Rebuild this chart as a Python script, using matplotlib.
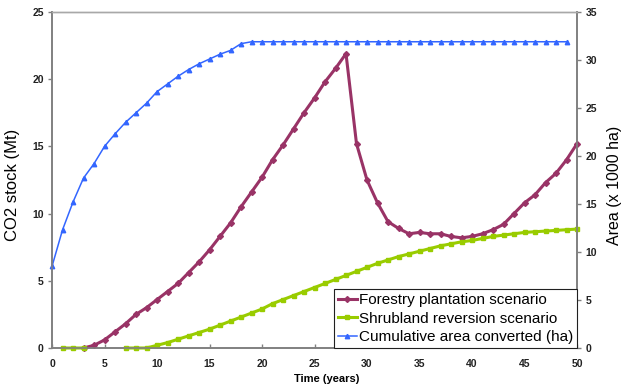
import numpy as np
import matplotlib
matplotlib.use("Agg")
import matplotlib.pyplot as plt

plt.rcParams['font.family'] = ['Liberation Sans', 'DejaVu Sans']

# data
years_forest = list(range(3, 51))
forest = [0.0, 0.2, 0.6, 1.2, 1.8, 2.5, 3.0, 3.6, 4.2, 4.8, 5.6, 6.4, 7.3, 8.3, 9.3, 10.5,
          11.6, 12.7, 14.0, 15.1, 16.3, 17.5, 18.6, 19.8, 20.8, 21.9,
          15.2, 12.5, 10.8, 9.4, 8.9, 8.5, 8.6, 8.5, 8.5, 8.3, 8.2, 8.3, 8.5, 8.8,
          9.2, 10.0, 10.8, 11.4, 12.3, 13.0, 14.0, 15.2]

years_shrub = list(range(1, 51))
shrub = [0.0, 0.0, 0.0, np.nan, np.nan, np.nan, 0.0, 0.0, 0.0, 0.2,
         0.4, 0.65, 0.9, 1.15, 1.4, 1.7, 2.0, 2.3, 2.6, 2.9,
         3.3, 3.6, 3.9, 4.2, 4.5, 4.8, 5.1, 5.4, 5.7, 6.0,
         6.3, 6.55, 6.8, 7.0, 7.2, 7.4, 7.6, 7.75, 7.9, 8.0,
         8.15, 8.3, 8.4, 8.5, 8.6, 8.65, 8.7, 8.75, 8.8, 8.85]

years_area = list(range(0, 50))
area = [8.5, 12.3, 15.2, 17.7, 19.2, 21.0, 22.3, 23.5, 24.5, 25.5,
        26.7, 27.5, 28.3, 29.0, 29.6, 30.1, 30.6, 31.0, 31.7] + [31.9] * 31

labels = ['Forestry plantation scenario', 'Shrubland reversion scenario',
          'Cumulative area converted (ha)']

fig = plt.figure(figsize=(6.24, 3.9), dpi=100)
ax = fig.add_axes([52 / 624, 1 - 348 / 390, 525 / 624, 336 / 390])
ax2 = ax.twinx()

l1, = ax.plot(years_forest, forest, color='#993366', lw=2.2, marker='D', ms=3,
              label=labels[0], clip_on=False, zorder=3)
l2, = ax.plot(years_shrub, shrub, color='#99CC00', lw=2.2, marker='s', ms=3.2,
              label=labels[1], clip_on=False, zorder=4)
l3, = ax2.plot(years_area, area, color='#3366FF', lw=1.1, marker='^', ms=3.2,
               label=labels[2], clip_on=False)

ax.set_xlim(0, 50)
ax.set_ylim(0, 25)
ax2.set_ylim(0, 35)
ax.set_xticks(range(0, 51, 5))
ax.set_yticks(range(0, 26, 5))
ax2.set_yticks(range(0, 36, 5))

grey = '#808080'
for a in (ax, ax2):
    for s in a.spines.values():
        s.set_color(grey)
        s.set_linewidth(1.2)
    a.spines['top'].set_color('#a8a8a8')
    a.spines['top'].set_linewidth(1.0)

ax.tick_params(axis='y', direction='out', length=3, width=1, color=grey, pad=3, labelsize=7.5)
ax.tick_params(axis='x', direction='in', length=3, width=1, color=grey, pad=8, labelsize=7.5)
ax2.tick_params(axis='y', direction='out', length=3, width=1, color=grey, pad=3, labelsize=7.5)
for lab in ax.get_xticklabels() + ax.get_yticklabels() + ax2.get_yticklabels():
    lab.set_fontweight('bold')
    lab.set_color('#222222')

ax.set_ylabel('CO2 stock (Mt)', fontsize=12)
ax.yaxis.set_label_coords(-0.061, 0.485)
ax2.set_ylabel('Area (x 1000 ha)', fontsize=11.5)
ax2.yaxis.set_label_coords(1.058, 0.485)
ax.set_xlabel('Time (years)', fontsize=8, fontweight='bold')
ax.xaxis.set_label_coords(0.524, -0.078)

leg = ax2.legend(handles=[l1, l2, l3], loc='lower right', bbox_to_anchor=(1, 0),
                 borderaxespad=0, fontsize=11, fancybox=False, framealpha=1,
                 edgecolor='#202020', handlelength=1.2, handletextpad=0.15,
                 labelspacing=0.3, borderpad=0.25)
leg.get_frame().set_linewidth(0.8)

fig.savefig('out.png', dpi=100)
